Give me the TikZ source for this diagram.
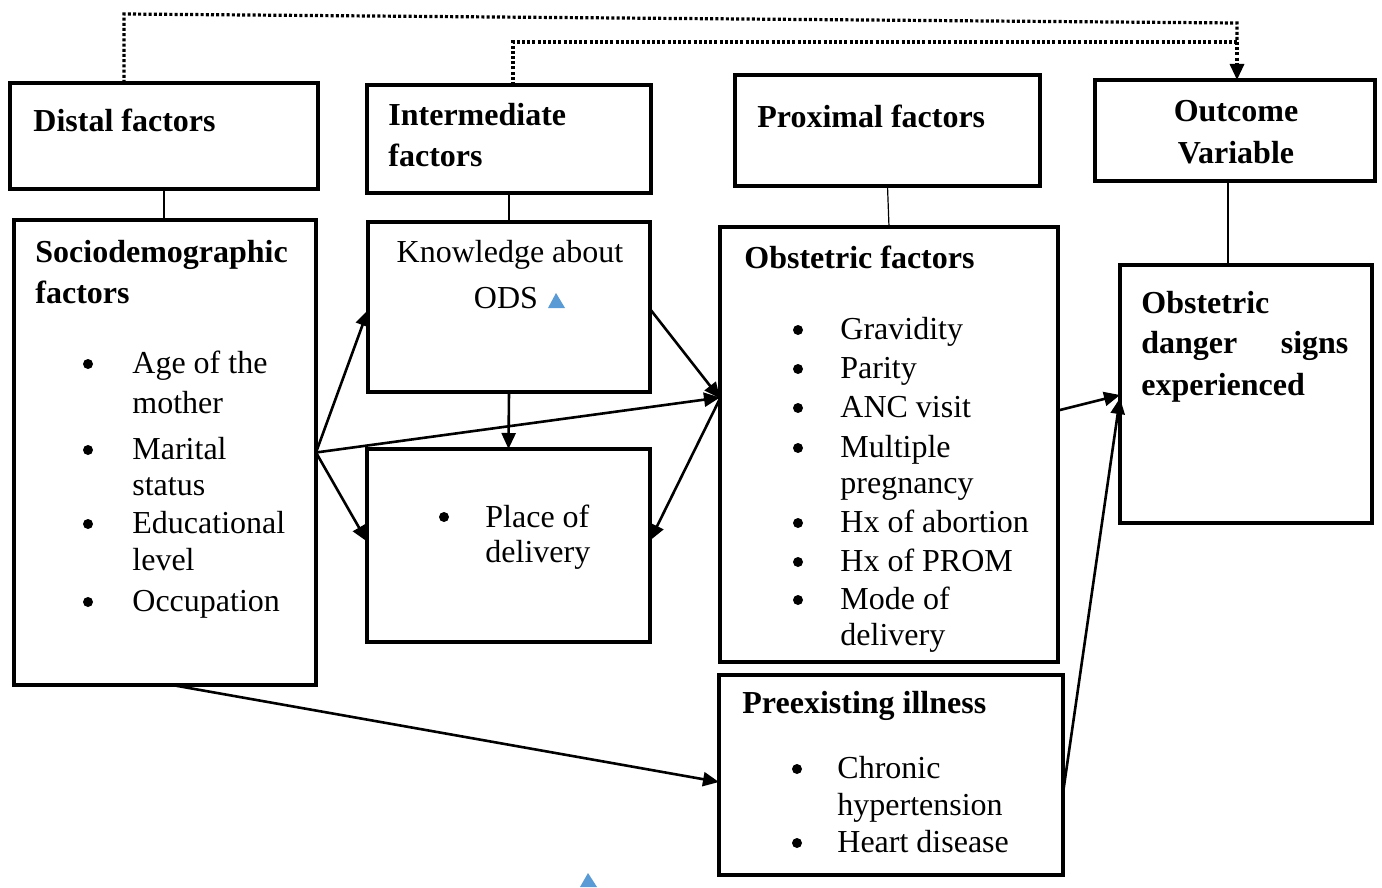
\documentclass[tikz,border=0pt]{standalone}
\usepackage{fontspec}
\setmainfont{Liberation Serif}
\usetikzlibrary{arrows.meta,calc}
\definecolor{blueish}{HTML}{5B9BD5}
\begin{document}
\begin{tikzpicture}[x=0.5pt,y=-0.5pt,
  box/.style={draw, line width=2pt, inner sep=0pt, outer sep=0pt},
  tbox/.style={draw, line width=1.6pt, inner sep=0pt, outer sep=0pt},
  txt/.style={anchor=base west, inner sep=0pt, font=\fontsize{16pt}{19pt}\selectfont},
  btxt/.style={txt, font=\fontsize{16pt}{19pt}\selectfont\bfseries},
  ctxt/.style={txt, anchor=base},
  bctxt/.style={btxt, anchor=base},
  bul/.style={circle, fill, inner sep=0pt, minimum size=5pt},
  arr/.style={line width=1.3pt, -{Triangle[length=8pt,width=7pt]}},
  link/.style={line width=0.6pt},
  dotline/.style={line width=1.6pt, dash pattern=on 1.5pt off 1.1pt},
  bluetri/.style={fill=blueish, draw=none}
]
\useasboundingbox (0,0) rectangle (1382,888);

% boxes
\node[box, minimum width=154pt, minimum height=53pt] (distal) at (164,136) {};
\node[tbox, minimum width=142pt, minimum height=54pt] (inter) at (509,139) {};
\node[box, minimum width=152.5pt, minimum height=55.5pt] (prox) at (887.5,130.5) {};
\node[tbox, minimum width=140pt, minimum height=50.5pt] (outc) at (1235,130.5) {};
\node[box, minimum width=151pt, minimum height=232.5pt] (socio) at (165,452.5) {};
\node[tbox, minimum width=141pt, minimum height=85pt] (know) at (509,307) {};
\node[tbox, minimum width=141.5pt, minimum height=96.5pt] (place) at (508.5,545.5) {};
\node[box, minimum width=169pt, minimum height=217.5pt] (obst) at (889,444.5) {};
\node[box, minimum width=172pt, minimum height=100pt] (pre) at (891,775) {};
\node[box, minimum width=126pt, minimum height=129pt] (danger) at (1246,394) {};

% header texts
\node[btxt] (tdistal) at (33,132) {Distal factors};
\node[btxt] (tinter1) at (388,126) {Intermediate};
\node[btxt] (tinter2) at (388,167) {factors};
\node[btxt] (tprox) at (757,127) {Proximal factors};
\node[bctxt] (toutc1) at (1236,122) {Outcome};
\node[bctxt] (toutc2) at (1236,163) {Variable};

% sociodemographic
\node[btxt] (ts1) at (35,262) {Sociodemographic};
\node[btxt] (ts2) at (35,303) {factors};
\node[bul] (bs1) at (88,364) {};
\node[txt] (ls1) at (132,373) {Age of the};
\node[txt] (ls2) at (132,413) {mother};
\node[bul] (bs2) at (88,450) {};
\node[txt] (ls3) at (132,459) {Marital};
\node[txt] (ls4) at (132,495) {status};
\node[bul] (bs3) at (88,524) {};
\node[txt] (ls5) at (132,533) {Educational};
\node[txt] (ls6) at (132,570) {level};
\node[bul] (bs4) at (88,602) {};
\node[txt] (ls7) at (132,611) {Occupation};

% knowledge
\node[ctxt] (tk1) at (510,262) {Knowledge about};
\node[ctxt] (tk2) at (506,308) {ODS};
\fill[bluetri] (548,308) -- (556,293) -- (565,308) -- cycle;

% place of delivery
\node[bul] (bp1) at (444,517) {};
\node[txt] (lp1) at (485,527) {Place of};
\node[txt] (lp2) at (485,562) {delivery};

% obstetric factors
\node[btxt] (to) at (744,268) {Obstetric factors};
\node[bul] (bo1) at (798,330) {};
\node[txt] (lo1) at (840,339) {Gravidity};
\node[bul] (bo2) at (798,369) {};
\node[txt] (lo2) at (840,378) {Parity};
\node[bul] (bo3) at (798,408) {};
\node[txt] (lo3) at (840,417) {ANC visit};
\node[bul] (bo4) at (798,448) {};
\node[txt] (lo4) at (840,457) {Multiple};
\node[txt] (lo5) at (840,493) {pregnancy};
\node[bul] (bo5) at (798,523) {};
\node[txt] (lo6) at (840,532) {Hx of abortion};
\node[bul] (bo6) at (798,562) {};
\node[txt] (lo7) at (840,571) {Hx of PROM};
\node[bul] (bo7) at (798,600) {};
\node[txt] (lo8) at (840,609) {Mode of};
\node[txt] (lo9) at (840,645) {delivery};

% preexisting
\node[btxt] (tp) at (742,713) {Preexisting illness};
\node[bul] (bq1) at (797,769) {};
\node[txt] (lq1) at (837,778) {Chronic};
\node[txt] (lq2) at (837,815) {hypertension};
\node[bul] (bq2) at (797,843) {};
\node[txt] (lq3) at (837,852) {Heart disease};

% danger signs
\node[btxt] (td1) at (1141,313) {Obstetric};
\node[btxt] (td2) at (1141,353) {\makebox[103.5pt][s]{danger\hfill signs}};
\node[btxt] (td3) at (1141,395) {experienced};

\fill[bluetri] (580,887) -- (588,873) -- (597,887) -- cycle;

% thin links
\draw[link] (distal.south) -- (distal.south |- socio.north);
\draw[link] (inter.south) -- (inter.south |- know.north);
\draw[link] (prox.south) -- (obst.north);
\coordinate (oc) at ($(outc.south west)!0.475!(outc.south east)$);
\draw[link] (oc) -- (oc |- danger.north);

% dotted feedback lines
\coordinate (c1) at (1237,23);
\coordinate (c2) at (1237,42);
\draw[dotline] ($(distal.north)+(-40,0)$) -- ($(distal.north)+(-40,-69)$) -- (c1) -- (c2);
\draw[dotline] ($(inter.north)+(4,0)$) -- ($(inter.north)+(4,-43)$) -- (c2);
\draw[dotline, -{Triangle[length=8pt,width=7pt]}] (c2) -- ($(outc.north)+(2,0)$);

% arrows
\draw[arr] (socio.east) -- ($(know.west)+(0,3)$);
\draw[arr] (socio.east) -- ($(obst.west)+(0,-47)$);
\draw[arr] (socio.east) -- ($(place.west)+(0,-4)$);
\draw[arr] (know.south) -- (place.north);
\draw[arr] ($(know.east)+(0,2)$) -- ($(obst.west)+(0,-46)$);
\draw[arr] ($(obst.west)+(0,-46)$) -- ($(place.east)+(0,-5)$);
\draw[arr] ($(obst.east)+(0,-34)$) -- ($(danger.west)+(0,1)$);
\draw[arr] ($(pre.east)+(0,18)$) -- ($(danger.west)+(0,4)$);
\draw[arr] ($(socio.south)+(7,0)$) -- ($(pre.west)+(0,7)$);
\end{tikzpicture}
\end{document}
